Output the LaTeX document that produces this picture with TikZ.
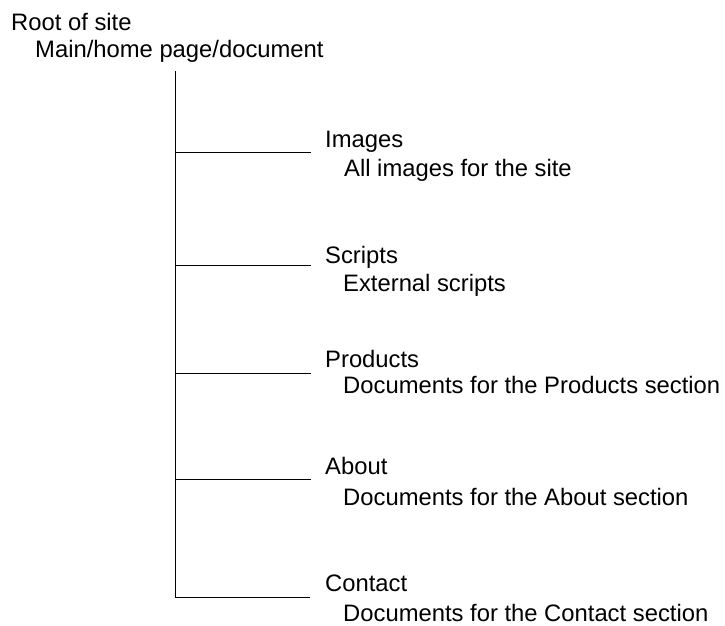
\documentclass[tikz,border=0pt]{standalone}
\usepackage{fontspec}
\setmainfont{Liberation Sans}
\usetikzlibrary{positioning}

\begin{document}
\begin{tikzpicture}[
  x=1pt, y=-1pt,
  lbl/.style={anchor=base west, inner sep=0pt, font=\fontsize{23.8}{28}\selectfont},
  dir/.style={lbl, inner xsep=14pt},
  branch/.style={line width=1pt}
]
\useasboundingbox (0,0) rectangle (725,626);

\node[lbl] (root) at (11,31) {Root of site};
\node[lbl] (home) at (35,58) {Main/home page/document};

\node[dir] (images) at (311,147) {Images};
\node[lbl] (imagesdesc) at (344,176) {All images for the site};
\node[dir] (scripts) at (311,263) {Scripts};
\node[lbl] (scriptsdesc) at (343,291) {External scripts};
\node[dir] (products) at (311,367) {Products};
\node[lbl] (productsdesc) at (343,393) {Documents for the Products section};
\node[dir] (about) at (311,474) {About};
\node[lbl] (aboutdesc) at (343,505) {Documents for the About section};
\node[dir] (contact) at (311,591) {Contact};
\node[lbl] (contactdesc) at (343,621) {Documents for the Contact section};

% trunk and branch points
\coordinate (trunk) at (175,71);
\coordinate (bimages) at (175,152.5);
\coordinate (bscripts) at (175,265);
\coordinate (bproducts) at (175,373);
\coordinate (babout) at (175,479);
\coordinate (bcontact) at (175,597);

\draw[branch] (trunk) -- (bcontact);
\draw[branch] (bimages) -- (images.west |- bimages);
\draw[branch] (bscripts) -- (scripts.west |- bscripts);
\draw[branch] (bproducts) -- (products.west |- bproducts);
\draw[branch] (babout) -- (about.west |- babout);
\draw[branch] (bcontact) -- ([xshift=-1pt]contact.west |- bcontact);
\end{tikzpicture}
\end{document}
